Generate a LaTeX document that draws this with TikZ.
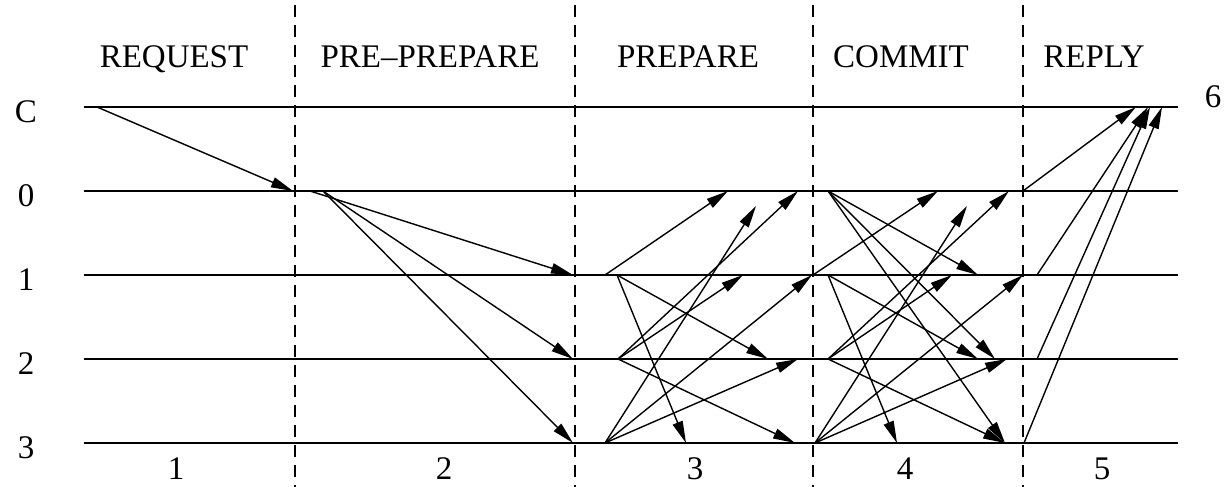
\documentclass[tikz,border=0pt]{standalone}
\usepackage{fontspec}
\setmainfont{Liberation Serif}
\usetikzlibrary{arrows.meta}
\tikzset{
  >={Triangle[length=11pt,width=5.2pt]},
  timeline/.style={line width=1pt},
  phase/.style={line width=0.9pt,dash pattern=on 6pt off 4pt},
  msg/.style={->,line width=0.7pt},
  lab/.style={font=\fontsize{16.5}{18}\selectfont,inner sep=0pt},
}

\begin{document}
\begin{tikzpicture}[x=0.5pt,y=-0.5pt]
  \useasboundingbox (0,0) rectangle (1227,487);
  % client and replicas
  \foreach \r/\y in {C/107,0/191,1/275,2/359,3/443}{
    \node[lab] (n\r) at (26,\y+5) {\r};
    \coordinate (a\r) at (84,\y);
    \coordinate (b\r) at (1178,\y);
    \draw[timeline] (a\r) -- (b\r);
  }
  % phase borders
  \foreach \i/\x in {1/295,2/575,3/813,4/1023}{
    \coordinate (top\i) at (\x,5);
    \coordinate (bot\i) at (\x,487);
    \draw[phase] (top\i) -- (bot\i);
  }
  % phase names and numbers
  \foreach \t/\x/\u [count=\n] in {REQUEST/174/176,PRE–PREPARE/430/444,PREPARE/688/695,COMMIT/901/905,REPLY/1094/1102}{
    \node[lab,anchor=base] (h\n) at (\x,67) {\t};
    \node[lab,anchor=base] (k\n) at (\u,479) {\n};
  }
  \node[lab,anchor=base] (k6) at (1213,107) {6};
  % senders
  \coordinate (sC) at (97,107);
  \coordinate (s0) at (310,191); \coordinate (s0b) at (323,191);
  \coordinate (p1) at (605,275); \coordinate (p1b) at (617,275);
  \coordinate (p2) at (618,359); \coordinate (p3) at (605,443);
  \coordinate (c0) at (828,191); \coordinate (c1) at (813,275); \coordinate (c1b) at (828,275);
  \coordinate (c2) at (828,359); \coordinate (c3) at (815,443);
  \coordinate (r0) at (1023,191); \coordinate (r1) at (1037,275);
  \coordinate (r2) at (1037,359); \coordinate (r3) at (1024,443);
  % messages
  \foreach \f/\x/\y [count=\i] in {sC/293/191,
      s0/573/275,s0b/573/359,s0b/573/443,
      p1/728/191,p1b/768/359,p1b/686/443,p2/798/191,p2/743/275,p2/795/443,
      p3/756/206,p3/812/275,p3/798/359,
      c0/978/275,c0/995/359,c0/1005/443,c1/938/191,c1b/978/359,c1b/897/443,
      c2/1009/191,c2/952/275,c2/1005/443,c3/967/206,c3/1023/275,c3/1007/359,
      r0/1136/107,r1/1148/107,r2/1150/107,r3/1162/107}{
    \coordinate (m\i) at (\x,\y);
    \draw[msg] (\f) -- (m\i);
  }
\end{tikzpicture}
\end{document}
